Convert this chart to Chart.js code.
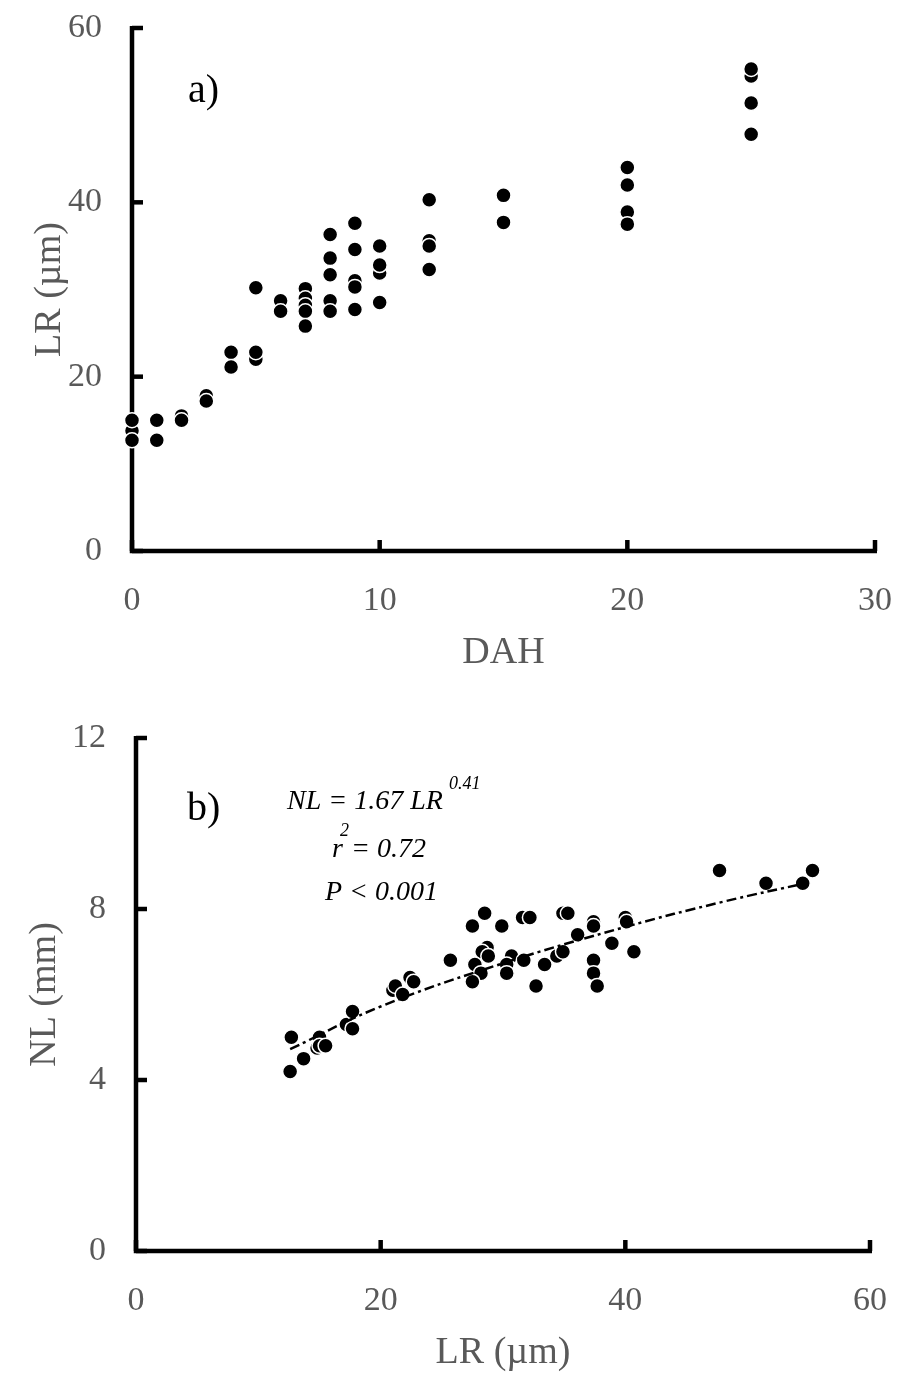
<!DOCTYPE html>
<html>
<head>
<meta charset="utf-8">
<script src="https://cdn.jsdelivr.net/npm/chart.js@4.4.1/dist/chart.umd.min.js"></script>
<style>
    html, body { margin: 0; padding: 0; background: #fff; }
    #wrap { position: relative; width: 899px; height: 1376px; }
    canvas { position: absolute; left: 0; }
    #chartA { top: 0; }
    #chartB { top: 680px; }
</style>
</head>
<body>
<div id="wrap">
    <canvas id="chartA" width="899" height="680"></canvas>
    <canvas id="chartB" width="899" height="696"></canvas>
</div>
<script>
// Panel a) : LR against DAH (order kept so hidden points sit underneath)
const dahX = [0, 0, 0, 1, 1, 2, 2, 3, 3, 4, 4, 5, 5, 5, 6, 6,
    7, 7, 7, 7, 7, 8, 8, 8, 8, 8, 9, 9, 9, 9, 9, 10, 10, 10, 10,
    12, 12, 12, 12, 15, 15, 20, 20, 20, 20, 25, 25, 25, 25];
const lrY = [13.8, 15.0, 12.7, 15.0, 12.7, 15.5, 15.0, 17.8, 17.2, 22.8, 21.1, 30.2, 22.0, 22.8, 28.7, 27.5,
    30.1, 29.0, 28.2, 27.5, 25.8, 36.3, 33.6, 31.7, 28.7, 27.5, 37.6, 34.6, 31.0, 30.3, 27.7, 35.0, 31.9, 32.8, 28.5,
    40.3, 35.6, 35.0, 32.3, 40.8, 37.7, 44.0, 42.0, 38.9, 37.5, 54.5, 55.3, 51.4, 47.8];

// Panel b) : NL against LR
const lrX = [12.6, 12.7, 13.7, 15.0, 14.8, 15.0, 15.5, 17.2, 17.7, 17.7,
    21.0, 21.2, 21.8, 22.4, 22.7, 25.7, 27.5, 28.5, 29.9, 31.6, 32.2, 34.9, 35.3,
    28.7, 28.3, 28.8, 27.7, 28.2, 27.5, 30.7, 30.3, 30.3, 31.7, 32.7, 33.4, 34.4, 34.9,
    36.1, 37.4, 37.4, 38.9, 40.0, 40.1, 40.7, 37.4, 37.4, 37.7, 47.7, 51.5, 54.5, 55.3];
const nlY = [4.2, 5.0, 4.5, 5.0, 4.75, 4.8, 4.8, 5.3, 5.6, 5.2,
    6.1, 6.2, 6.0, 6.4, 6.3, 6.8, 7.6, 7.9, 7.6, 7.8, 7.8, 7.9, 7.9,
    7.1, 7.0, 6.9, 6.7, 6.5, 6.3, 6.9, 6.7, 6.5, 6.8, 6.2, 6.7, 6.9, 7.0,
    7.4, 7.7, 7.6, 7.2, 7.8, 7.7, 7.0, 6.8, 6.5, 6.2, 8.9, 8.6, 8.6, 8.9];

// fitted curve NL = 1.67 LR^0.41
const fitX = [12.6, 20, 30, 40, 48, 55];
const fitY = [4.72, 5.72, 6.73, 7.58, 8.17, 8.62];

// tick labels
const ticksAX = [0, 10, 20, 30];
const ticksAY = [0, 20, 40, 60];
const ticksBX = [0, 20, 40, 60];
const ticksBY = [0, 4, 8, 12];

const labelColor = '#595959';
const serif = '"Liberation Serif", "Times New Roman", serif';

function toPoints(xs, ys) {
    return xs.map((x, i) => ({ x: x, y: ys[i] }));
}

// axes, inward ticks and texts drawn from the chart's own scales
function framePlugin(cfg) {
    return {
        id: 'frame',
        beforeDatasetsDraw(chart) {
            const ctx = chart.ctx;
            const area = chart.chartArea;
            const xs = chart.scales.x;
            const ys = chart.scales.y;

            ctx.save();
            ctx.strokeStyle = '#000';
            ctx.lineWidth = 4.5;
            ctx.lineCap = 'butt';
            ctx.beginPath();
            ctx.moveTo(area.left, area.top - 2);
            ctx.lineTo(area.left, area.bottom);
            ctx.lineTo(area.right + 2, area.bottom);
            ctx.stroke();

            cfg.yTicks.forEach(v => {
                const py = ys.getPixelForValue(v);
                ctx.beginPath();
                ctx.moveTo(area.left, py);
                ctx.lineTo(area.left + 11, py);
                ctx.stroke();
            });
            cfg.xTicks.forEach(v => {
                const px = xs.getPixelForValue(v);
                ctx.beginPath();
                ctx.moveTo(px, area.bottom);
                ctx.lineTo(px, area.bottom - 11);
                ctx.stroke();
            });

            // tick labels
            ctx.fillStyle = labelColor;
            ctx.font = '34px ' + serif;
            ctx.textAlign = 'right';
            ctx.textBaseline = 'middle';
            cfg.yTicks.forEach(v => {
                ctx.fillText(String(v), area.left - 30, ys.getPixelForValue(v));
            });
            ctx.textAlign = 'center';
            cfg.xTicks.forEach(v => {
                ctx.fillText(String(v), xs.getPixelForValue(v), area.bottom + 50);
            });

            // axis titles
            ctx.font = '38px ' + serif;
            ctx.fillText(cfg.xTitle, (area.left + area.right) / 2, area.bottom + 102);
            ctx.save();
            ctx.translate(cfg.yTitleX, (area.top + area.bottom) / 2);
            ctx.rotate(-Math.PI / 2);
            ctx.fillText(cfg.yTitle, 0, 0);
            ctx.restore();

            // panel letter
            ctx.fillStyle = '#000';
            ctx.font = '40px ' + serif;
            ctx.textAlign = 'left';
            ctx.textBaseline = 'alphabetic';
            ctx.fillText(cfg.letter, cfg.letterX, cfg.letterY);

            if (cfg.equation) cfg.equation(ctx);
            ctx.restore();
        }
    };
}

function drawEquation(ctx) {
    // coordinates inside canvas B (page y - 680)
    ctx.fillStyle = '#000';
    ctx.textAlign = 'left';
    ctx.textBaseline = 'alphabetic';
    ctx.font = 'italic 28px ' + serif;
    ctx.fillText('NL = 1.67 LR', 287, 129);
    ctx.fillText('r', 332, 177);
    ctx.fillText('= 0.72', 351, 177);
    ctx.fillText('P < 0.001', 325, 220);
    ctx.font = 'italic 18px ' + serif;
    ctx.fillText('0.41', 449, 109);
    ctx.fillText('2', 340, 156);
}

const pointStyle = {
    backgroundColor: '#000',
    borderColor: '#fff',
    borderWidth: 1.5,
    pointRadius: 7.5,
    pointHoverRadius: 7.5,
    clip: false
};

function hiddenScale(min, max) {
    return { type: 'linear', min: min, max: max, display: false };
}

new Chart(document.getElementById('chartA'), {
    type: 'scatter',
    data: {
        datasets: [Object.assign({ data: toPoints(dahX, lrY) }, pointStyle)]
    },
    options: {
        responsive: false,
        animation: false,
        layout: { padding: { left: 132, right: 24, top: 28, bottom: 129 } },
        scales: { x: hiddenScale(0, 30), y: hiddenScale(0, 60) },
        plugins: { legend: { display: false }, tooltip: { enabled: false } }
    },
    plugins: [framePlugin({
        xTicks: ticksAX, yTicks: ticksAY,
        xTitle: 'DAH', yTitle: 'LR (µm)', yTitleX: 50,
        letter: 'a)', letterX: 188, letterY: 102
    })]
});

new Chart(document.getElementById('chartB'), {
    type: 'scatter',
    data: {
        datasets: [
            {
                type: 'line',
                data: toPoints(fitX, fitY),
                borderColor: '#000',
                borderWidth: 2.5,
                borderDash: [10, 4, 3, 4],
                pointRadius: 0,
                fill: false,
                tension: 0.4,
                order: 0
            },
            Object.assign({ data: toPoints(lrX, nlY), order: 1 }, pointStyle)
        ]
    },
    options: {
        responsive: false,
        animation: false,
        layout: { padding: { left: 136, right: 29, top: 58, bottom: 125 } },
        scales: { x: hiddenScale(0, 60), y: hiddenScale(0, 12) },
        plugins: { legend: { display: false }, tooltip: { enabled: false } }
    },
    plugins: [framePlugin({
        xTicks: ticksBX, yTicks: ticksBY,
        xTitle: 'LR (µm)', yTitle: 'NL (mm)', yTitleX: 45,
        letter: 'b)', letterX: 187, letterY: 820 - 680,
        equation: drawEquation
    })]
});
</script>
</body>
</html>
